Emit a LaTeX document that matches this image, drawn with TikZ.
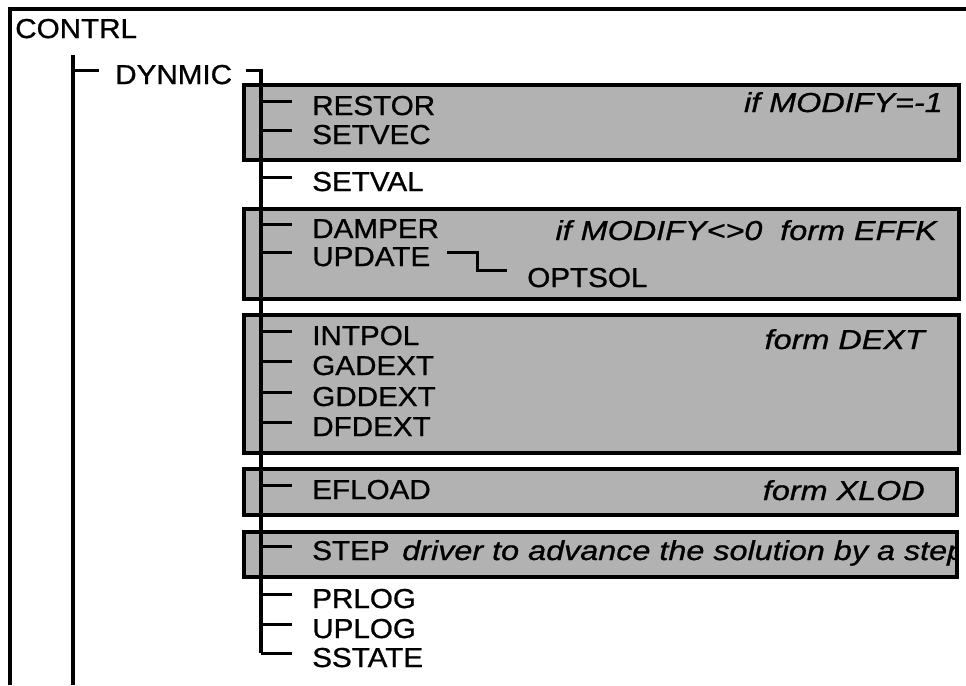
\documentclass[tikz,border=0pt]{standalone}
\usepackage{fontspec}
\usetikzlibrary{calc}
\newfontfamily\hfont[FakeStretch=1.08, FakeBold=0.9]{Liberation Sans}
\newfontfamily\hifont[FakeStretch=1.18, FakeBold=0.9]{Liberation Sans}
\tikzset{
  rout/.style={font=\hfont\fontsize{19.5}{22}\selectfont, inner sep=0pt, anchor=base west},
  remark/.style={font=\hifont\itshape\fontsize{19.5}{22}\selectfont, inner sep=0pt, anchor=base east},
  band/.style={draw, fill=black!30, line width=2.5pt},
  wire/.style={line width=2.5pt},
}

\begin{document}
\begin{tikzpicture}[x=0.025cm, y=-0.025cm]
  \useasboundingbox (0,0) rectangle (966,685);

  % shaded groups
  \draw[band] (244,85) rectangle (959,160);
  \draw[band] (244,209) rectangle (959,299);
  \draw[band] (244,315) rectangle (959,453);
  \draw[band] (244,469) rectangle (957,515);
  \draw[band] (244,532) rectangle (957,577);

  % frame
  \draw[wire] (10,685) -- (10,9) -- (966,9);

  \node[rout] (contrl) at (15,38) {CONTRL};
  \node[rout] (dynmic) at (115,84) {DYNMIC};

  \node[rout] (restor) at (312,115) {RESTOR};
  \node[rout] (setvec) at (312,144) {SETVEC};
  \node[rout] (setval) at (312,191) {SETVAL};
  \node[rout] (damper) at (312,238) {DAMPER};
  \node[rout] (update) at (312,266) {UPDATE};
  \node[rout] (optsol) at (527,287) {OPTSOL};
  \node[rout] (intpol) at (312,345) {INTPOL};
  \node[rout] (gadext) at (312,375) {GADEXT};
  \node[rout] (gddext) at (312,406) {GDDEXT};
  \node[rout] (dfdext) at (312,436) {DFDEXT};
  \node[rout] (efload) at (312,499) {EFLOAD};
  \node[rout] (step) at (312,560) {STEP};
  \node[rout] (prlog) at (312,608) {PRLOG};
  \node[rout] (uplog) at (312,638) {UPLOG};
  \node[rout] (sstate) at (312,667) {SSTATE};

  % conditions
  \node[remark] (c1) at (943,112) {if MODIFY=-1};
  \node[remark] (c2) at (937,240) {if MODIFY<>0~ form EFFK};
  \node[remark] (c3) at (925,349) {form DEXT};
  \node[remark] (c4) at (925,500) {form XLOD};
  \begin{scope}
    \clip (244,532) rectangle (956,577);
    \node[remark, anchor=base west] (c5) at (402,560) {driver to advance the solution by a step};
  \end{scope}

  % call tree
  \coordinate (ctop) at (73,55);
  \coordinate (cbot) at (73,685);
  \coordinate (spine) at (261,70);
  \coordinate (send) at (261,653);

  \draw[wire] (ctop) -- (cbot);
  \draw[wire] ([yshift=1mm]dynmic.west -| ctop) -- ([shift={(-0.4cm,1mm)}]dynmic.west);
  \draw[wire, line join=miter] ([shift={(0.33cm,1mm)}]dynmic.east) -| (send);

  \foreach \n in {restor,setvec,setval,damper,update,intpol,gadext,gddext,dfdext,efload,step,prlog,uplog,sstate}
    \draw[wire] ([yshift=1mm]\n.west -| spine) -- ([shift={(-0.5cm,1mm)}]\n.west);

  \draw[wire, line join=miter] ([shift={(0.42cm,1mm)}]update.east) -- ++(30,0)
        |- ([shift={(-0.5cm,1.8mm)}]optsol.west);
\end{tikzpicture}
\end{document}
